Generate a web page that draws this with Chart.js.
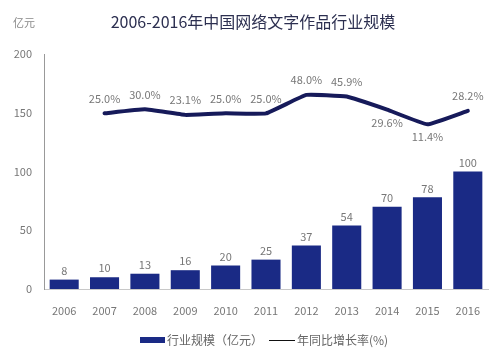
<!DOCTYPE html>
<html>
<head>
<meta charset="utf-8">
<script src="https://cdn.jsdelivr.net/npm/chart.js@4"></script>
<style>
  html, body { margin: 0; padding: 0; background: #fff; }
  #wrap { width: 500px; height: 349px; position: relative; }
</style>
</head>
<body>
<div id="wrap"><canvas id="c"></canvas></div>
<script>
const years = ['2006', '2007', '2008', '2009', '2010', '2011', '2012', '2013', '2014', '2015', '2016'];
const scale = [8, 10, 13, 16, 20, 25, 37, 54, 70, 78, 100];
const growth = [null, 25.0, 30.0, 23.1, 25.0, 25.0, 48.0, 45.9, 29.6, 11.4, 28.2];
const yTicks = [0, 50, 100, 150, 200];
// labels under the line instead of above
const labelBelow = ['2014', '2015'];

const FONT = '"Noto Sans CJK SC", "Noto Sans", sans-serif';

const decor = {
    id: 'decor',
    afterDatasetsDraw(chart) {
        const ctx = chart.ctx;
        ctx.save();
        ctx.textAlign = 'center';
        ctx.textBaseline = 'middle';
        ctx.fillStyle = '#777';
        ctx.font = '11px ' + FONT;

        // bar values
        chart.getDatasetMeta(0).data.forEach((bar, i) => {
            ctx.fillText(String(scale[i]), bar.x, bar.y - 9);
        });
        // growth rates
        chart.getDatasetMeta(1).data.forEach((pt, i) => {
            if (growth[i] == null) return;
            const dy = labelBelow.includes(years[i]) ? 13 : -15;
            ctx.fillText(growth[i].toFixed(1) + '%', pt.x, pt.y + dy);
        });

        // title + unit
        ctx.fillStyle = '#2c2f50';
        ctx.font = '16px ' + FONT;
        ctx.fillText('2006-2016年中国网络文字作品行业规模', 253, 22);
        ctx.fillStyle = '#888';
        ctx.font = '11px ' + FONT;
        ctx.textAlign = 'left';
        ctx.fillText('亿元', 13, 23);

        // legend
        const ly = 340;
        ctx.fillStyle = '#1a2a85';
        ctx.fillRect(140, ly - 3, 25, 6);
        ctx.fillStyle = '#666';
        ctx.font = '12px ' + FONT;
        ctx.fillText('行业规模（亿元）', 167, ly);
        ctx.strokeStyle = '#111';
        ctx.lineWidth = 1;
        ctx.beginPath();
        ctx.moveTo(269, ly + 0.5);
        ctx.lineTo(295, ly + 0.5);
        ctx.stroke();
        ctx.fillText('年同比增长率(%)', 297, ly);
        ctx.restore();
    }
};

new Chart(document.getElementById('c'), {
    data: {
        labels: years,
        datasets: [
            {
                type: 'bar',
                label: '行业规模（亿元）',
                data: scale,
                backgroundColor: '#1a2a85',
                categoryPercentage: 0.72,
                barPercentage: 1,
                yAxisID: 'y',
                order: 2
            },
            {
                type: 'line',
                label: '年同比增长率(%)',
                data: growth,
                borderColor: '#161a5a',
                borderWidth: 4,
                borderCapStyle: 'round',
                borderJoinStyle: 'round',
                pointRadius: 0,
                tension: 0.1,
                yAxisID: 'y1',
                order: 1
            }
        ]
    },
    options: {
        responsive: true,
        maintainAspectRatio: false,
        animation: false,
        layout: { padding: { top: 54, right: 12, left: 0, bottom: 0 } },
        plugins: {
            legend: { display: false },
            title: { display: false },
            tooltip: { enabled: false }
        },
        scales: {
            x: {
                offset: true,
                grid: { display: false, drawTicks: false },
                border: { display: true, color: '#c8c8c8', width: 1 },
                ticks: { color: '#777', font: { size: 11, family: FONT }, padding: 15 },
                afterFit(s) { s.height = 60; }
            },
            y: {
                min: 0,
                max: 200,
                afterBuildTicks(s) { s.ticks = yTicks.map(v => ({ value: v })); },
                grid: { display: false, drawTicks: false },
                border: { display: true, color: '#999', width: 1 },
                ticks: { color: '#777', font: { size: 11, family: FONT }, padding: 12 },
                afterFit(s) { s.width = 44; }
            },
            y1: {
                display: false,
                min: -194,
                max: 99
            }
        }
    },
    plugins: [decor]
});
</script>
</body>
</html>
